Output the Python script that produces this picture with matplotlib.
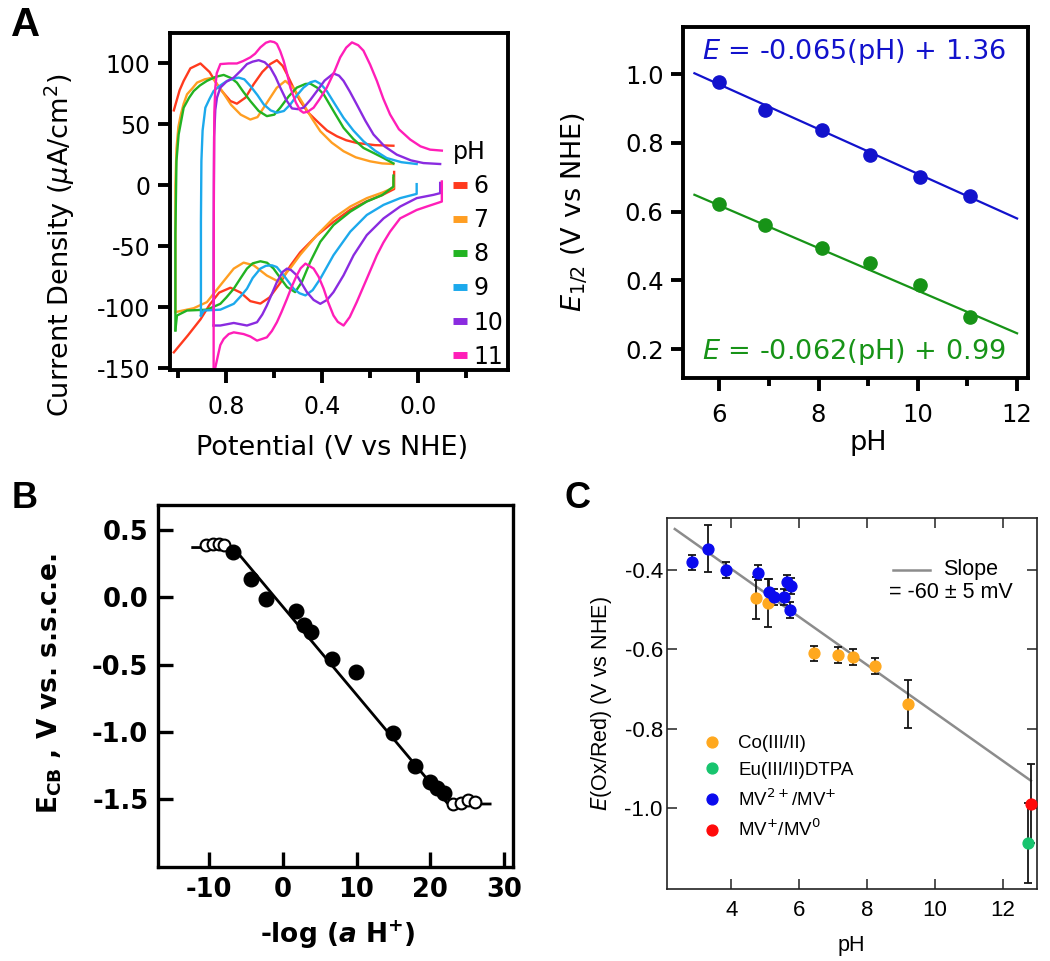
import matplotlib
matplotlib.use('Agg')
import matplotlib.pyplot as plt
from matplotlib.lines import Line2D
import numpy as np

plt.rcParams['font.family'] = ['DejaVu Sans']
plt.rcParams['axes.unicode_minus'] = False
plt.rcParams['mathtext.fontset'] = 'custom'
plt.rcParams['mathtext.rm'] = 'DejaVu Sans'
plt.rcParams['mathtext.it'] = 'DejaVu Sans:italic'
plt.rcParams['mathtext.bf'] = 'DejaVu Sans:bold'
try:
    plt.rcParams['mathtext.bfit'] = 'DejaVu Sans:bold:italic'
except KeyError:
    pass

# ---------------- Panel A (left): cyclic voltammograms ----------------
cv_pH_labels = ['6', '7', '8', '9', '10', '11']
cv_colors = ['#FF3A1E', '#FF9E22', '#22B322', '#1CA9EC', '#8A2BE0', '#FF1EB8']

ph6_fwd = [(1.019, 61.5), (0.995, 78), (0.978, 85.7), (0.95, 96), (0.908, 100.0), (0.87, 93),
           (0.83, 80), (0.783, 69.2), (0.756, 67.0), (0.72, 72), (0.686, 83), (0.65, 93),
           (0.617, 99.5), (0.589, 102.7), (0.565, 98), (0.547, 91.2), (0.52, 80), (0.492, 69.2),
           (0.46, 60), (0.422, 52.7), (0.38, 45), (0.339, 40.3), (0.30, 37), (0.256, 34.8),
           (0.18, 33), (0.103, 32.5)]
ph6_rev = [(0.100, 11), (0.100, -3), (0.15, -8), (0.214, -13), (0.283, -20), (0.353, -30),
           (0.422, -41), (0.492, -55), (0.533, -66), (0.575, -80), (0.62, -92), (0.658, -97),
           (0.70, -95), (0.74, -88), (0.783, -84), (0.83, -88), (0.87, -98), (0.908, -110),
           (0.96, -123), (1.019, -137)]

ph7_fwd = [(1.0125, -104), (1.0125, 0), (1.008, 30), (1.0, 48), (0.99, 58), (0.978, 67),
           (0.964, 74.7), (0.94, 80), (0.922, 84.3), (0.89, 87), (0.867, 88), (0.853, 87),
           (0.82, 78), (0.78, 66), (0.74, 58), (0.70, 54), (0.67, 56), (0.63, 68), (0.59, 80),
           (0.554, 85.7), (0.52, 80), (0.478, 66.4), (0.44, 54), (0.408, 44.4), (0.36, 35),
           (0.311, 28), (0.26, 23), (0.20, 19.7), (0.15, 18), (0.103, 17.5)]
ph7_rev = [(0.103, 6), (0.103, -2), (0.15, -6), (0.214, -10.5), (0.283, -17.4), (0.353, -27),
           (0.422, -40.8), (0.492, -57), (0.533, -68), (0.582, -79), (0.631, -74), (0.686, -65.6),
           (0.728, -63.4), (0.769, -68.3), (0.825, -82), (0.881, -95.8), (0.936, -100.8),
           (1.0125, -104)]

ph8_fwd = [(1.0125, -119), (1.0125, -40), (1.008, 20), (0.999, 41.7), (0.978, 63.7), (0.955, 72),
           (0.936, 77.4), (0.91, 82), (0.881, 85.7), (0.845, 89), (0.811, 90.6), (0.78, 88),
           (0.756, 84.3), (0.73, 77), (0.70, 69.2), (0.665, 61), (0.631, 56.8), (0.60, 58),
           (0.575, 63.7), (0.54, 73), (0.506, 80.2), (0.47, 83.2), (0.45, 83.5), (0.42, 80),
           (0.394, 74.7), (0.35, 60), (0.311, 47.2), (0.27, 38), (0.228, 30.7), (0.18, 26),
           (0.144, 22.4), (0.103, 18)]
ph8_rev = [(0.103, 8), (0.103, -1), (0.15, -8), (0.214, -13.3), (0.283, -21.6), (0.353, -32.6),
           (0.408, -46.3), (0.45, -62.8), (0.485, -79.3), (0.513, -87.6), (0.547, -83.4),
           (0.575, -76), (0.603, -68.3), (0.63, -63.5), (0.658, -62.3), (0.69, -64), (0.714, -68.3),
           (0.74, -76), (0.769, -84.8), (0.80, -92), (0.825, -97.2), (0.881, -102), (0.964, -102.7),
           (1.006, -106.8), (1.0125, -119)]

ph9_fwd = [(0.906, -106.8), (0.906, -30), (0.904, 20), (0.899, 45), (0.8875, 63.7), (0.87, 71),
           (0.853, 77.4), (0.825, 82), (0.797, 85.7), (0.77, 87.5), (0.749, 88.4), (0.725, 87),
           (0.70, 81.6), (0.67, 74), (0.644, 66.4), (0.615, 61.5), (0.589, 59.6), (0.56, 61),
           (0.533, 66.4), (0.505, 74), (0.478, 80.2), (0.45, 84.5), (0.429, 85.7), (0.405, 83),
           (0.381, 77.4), (0.345, 66), (0.311, 55.4), (0.27, 45), (0.228, 36.2), (0.18, 28.5),
           (0.131, 22.4), (0.07, 19), (0.006, 17.5)]
ph9_rev = [(0.006, 1), (0.006, -7), (0.075, -10.5), (0.144, -16), (0.214, -24.3), (0.283, -38),
           (0.353, -57.3), (0.408, -76.6), (0.44, -86), (0.47, -90.3), (0.495, -88.5),
           (0.519, -84.8), (0.561, -73.8), (0.59, -67), (0.61, -65.6), (0.635, -66), (0.658, -68.3),
           (0.69, -76), (0.714, -84.8), (0.74, -91), (0.769, -97.2), (0.825, -102), (0.894, -102.7),
           (0.906, -106.8)]

ph10_fwd = [(0.853, -115), (0.853, -50), (0.851, 40), (0.846, 62), (0.839, 72), (0.825, 80.2),
            (0.80, 85), (0.769, 88.4), (0.74, 94), (0.714, 99.5), (0.69, 101.5), (0.665, 102.7),
            (0.64, 101), (0.617, 96.7), (0.595, 89), (0.575, 80.2), (0.55, 70), (0.526, 63.1),
            (0.50, 62.5), (0.478, 63.7), (0.45, 70), (0.422, 77.4), (0.39, 86), (0.353, 91.8),
            (0.33, 90), (0.311, 85.7), (0.285, 77), (0.256, 66.4), (0.22, 53), (0.186, 41.7),
            (0.14, 32), (0.089, 25.2), (0.03, 20.5), (-0.022, 18.3), (-0.092, 17.5)]
ph10_rev = [(-0.092, 2), (-0.092, -6.4), (-0.064, -7.8), (0.006, -10.5), (0.075, -17.4),
            (0.144, -27.1), (0.214, -40.8), (0.269, -57.3), (0.311, -73.8), (0.353, -87.6),
            (0.38, -94), (0.408, -97.2), (0.436, -94), (0.464, -87.6), (0.506, -73.8), (0.53, -69.5),
            (0.547, -68.3), (0.565, -71), (0.589, -79.3), (0.61, -89), (0.631, -98.6), (0.65, -106),
            (0.672, -112.3), (0.714, -115), (0.769, -112.9), (0.825, -115), (0.853, -115)]

ph11_fwd = [(0.853, -149.5), (0.853, -100), (0.852, 0), (0.850, 60), (0.846, 80.2), (0.84, 92),
            (0.825, 99.5), (0.79, 100), (0.756, 100), (0.73, 102), (0.70, 105), (0.68, 108),
            (0.658, 113.2), (0.635, 117), (0.617, 118.2), (0.60, 117.5), (0.589, 116), (0.575, 110),
            (0.561, 102.2), (0.547, 92), (0.533, 80.2), (0.51, 68), (0.492, 61.5), (0.478, 59.6),
            (0.46, 60.5), (0.436, 63.7), (0.41, 71), (0.381, 80.2), (0.35, 93), (0.325, 105),
            (0.30, 113), (0.276, 117.3), (0.25, 115), (0.228, 110.5), (0.20, 99), (0.172, 85.7),
            (0.145, 71), (0.117, 58.2), (0.08, 46), (0.033, 37.6), (-0.01, 32), (-0.05, 29.3),
            (-0.099, 28.5)]
ph11_rev = [(-0.099, 3.2), (-0.099, -13.3), (-0.036, -17.4), (0.006, -20.2), (0.075, -27.1),
            (0.117, -38), (0.145, -47), (0.172, -57.3), (0.214, -76.6), (0.256, -95.8),
            (0.285, -108), (0.311, -115), (0.335, -112), (0.353, -106.8), (0.375, -96),
            (0.394, -84.8), (0.415, -75), (0.436, -68.3), (0.47, -64.2), (0.49, -68), (0.506, -73.8),
            (0.527, -83), (0.547, -93.1), (0.57, -104), (0.589, -112.3), (0.61, -119.5),
            (0.631, -124.7), (0.672, -127.4), (0.70, -124), (0.728, -122), (0.769, -120.6),
            (0.79, -122), (0.811, -126), (0.825, -131), (0.832, -137), (0.846, -149.5)]

cv_fwd = [ph6_fwd, ph7_fwd, ph8_fwd, ph9_fwd, ph10_fwd, ph11_fwd]
cv_rev = [ph6_rev, ph7_rev, ph8_rev, ph9_rev, ph10_rev, ph11_rev]

# ---------------- Panel A (right): E1/2 vs pH ----------------
e12_pH = [6.0, 6.93, 8.08, 9.03, 10.05, 11.06]
e12_high = [0.978, 0.895, 0.837, 0.766, 0.701, 0.645]
e12_low = [0.622, 0.560, 0.493, 0.451, 0.386, 0.294]
fit_high_slope, fit_high_int = -0.065, 1.36
fit_low_slope, fit_low_int = -0.062, 0.99
fit_pH_range = [5.5, 12.0]

# ---------------- Panel B ----------------
B_open_x = [-10.4, -9.4, -8.7, -8.0, 23.1, 24.1, 25.1, 26.0]
B_open_y = [0.39, 0.40, 0.40, 0.39, -1.535, -1.525, -1.505, -1.518]
B_fill_x = [-6.8, -4.3, -2.3, 1.8, 2.9, 3.8, 6.7, 9.9, 14.9, 17.9, 20.0, 20.9, 21.9]
B_fill_y = [0.34, 0.135, -0.01, -0.10, -0.205, -0.26, -0.46, -0.557, -1.01, -1.25, -1.37,
            -1.415, -1.455]
B_line_x = [-12.2, -6.7, 22.4, 28.1]
B_line_y = [0.37, 0.37, -1.535, -1.535]

# ---------------- Panel C ----------------
C_co_pH = [4.73, 5.08, 6.42, 7.15, 7.59, 8.22, 9.20]
C_co_E = [-0.471, -0.484, -0.610, -0.614, -0.620, -0.643, -0.738]
C_co_err = [0.053, 0.060, 0.019, 0.020, 0.020, 0.020, 0.061]
C_eu_pH = [12.73]
C_eu_E = [-1.088]
C_eu_err = [0.10]
C_mv1_pH = [2.85, 3.30, 3.85, 4.79, 5.11, 5.24, 5.54, 5.64, 5.74, 5.71]
C_mv1_E = [-0.382, -0.347, -0.402, -0.408, -0.457, -0.469, -0.469, -0.432, -0.442, -0.502]
C_mv1_err = [0.019, 0.060, 0.020, 0.019, 0.034, 0.020, 0.020, 0.019, 0.020, 0.020]
C_mv2_pH = [12.82]
C_mv2_E = [-0.989]
C_mv2_err = [0.10]
C_slope, C_int = -0.0604, -0.157
C_fit_range = [2.33, 12.82]
C_labels = ['Co(III/II)', 'Eu(III/II)DTPA', 'MV$^{2+}$/MV$^{+}$', 'MV$^{+}$/MV$^{0}$']
C_colors = ['#FFA81E', '#17C46E', '#0A0AEE', '#FF0A0A']

# ================= figure =================
W, H = 1050, 961
fig = plt.figure(figsize=(W / 100, H / 100), dpi=100)


def axpos(l, t, r, b):
    return [l / W, 1 - b / H, (r - l) / W, (b - t) / H]


axA = fig.add_axes(axpos(170, 33, 508, 370))
axA2 = fig.add_axes(axpos(683, 27, 1028, 378))
axB = fig.add_axes(axpos(158, 505, 513, 867))
axC = fig.add_axes(axpos(667, 518, 1037, 889))

# ---- Panel A left ----
handles = []
for lab, col, fw, rv in zip(cv_pH_labels, cv_colors, cv_fwd, cv_rev):
    e, j = np.array(fw).T
    axA.plot(e, j, color=col, lw=1.7, solid_joinstyle='round')
    e, j = np.array(rv).T
    axA.plot(e, j, color=col, lw=1.7, solid_joinstyle='round')
    handles.append(Line2D([], [], color=col, lw=5, solid_capstyle='butt'))
axA.set_xlim(1.035, -0.375)
axA.set_ylim(-151.5, 125)
axA.set_xticks([0.8, 0.4, 0.0])
axA.set_xticks([1.0, 0.6, 0.2, -0.2], minor=True)
axA.set_yticks([100, 50, 0, -50, -100, -150])
axA.tick_params(which='both', direction='out', width=2.8, labelsize=17)
axA.tick_params(which='major', length=9)
axA.tick_params(which='minor', length=6)
axA.tick_params(axis='x', pad=9)
axA.tick_params(axis='y', pad=5)
for s in axA.spines.values():
    s.set_linewidth(2.8)
axA.set_ylabel('Current Density ($\\mu$A/cm$^2$)', fontsize=19.5, va='center')
axA.yaxis.set_label_coords(-0.325, 0.371)
axA.set_xlabel('Potential (V vs NHE)', fontsize=19.5, va='center')
axA.xaxis.set_label_coords(0.479, -0.231)
leg = axA.legend(handles, cv_pH_labels, title='pH', loc='upper right',
                 bbox_to_anchor=(0.985, 0.683), frameon=False, fontsize=17,
                 title_fontsize=17, handlelength=0.6, handletextpad=0.25,
                 labelspacing=0.43, borderpad=0, borderaxespad=0, alignment='left')

# ---- Panel A right ----
blue_c, green_c = '#1212CC', '#179317'
fx = np.array(fit_pH_range)
axA2.plot(fx, fit_high_slope * fx + fit_high_int, color=blue_c, lw=1.6)
axA2.plot(fx, fit_low_slope * fx + fit_low_int, color=green_c, lw=1.6)
axA2.plot(e12_pH, e12_high, 'o', color=blue_c, ms=9.5)
axA2.plot(e12_pH, e12_low, 'o', color=green_c, ms=9.5)
axA2.set_xlim(5.27, 12.22)
axA2.set_ylim(0.116, 1.137)
axA2.set_xticks([6, 8, 10, 12])
axA2.set_xticks([7, 9, 11], minor=True)
axA2.set_yticks([0.2, 0.4, 0.6, 0.8, 1.0])
axA2.tick_params(which='both', direction='out', width=2.8, labelsize=17.5)
axA2.tick_params(which='major', length=9)
axA2.tick_params(which='minor', length=6)
axA2.tick_params(axis='x', pad=9)
axA2.tick_params(axis='y', pad=5)
for s in axA2.spines.values():
    s.set_linewidth(2.8)
axA2.set_ylabel('$E_{1/2}$ (V vs NHE)', fontsize=19.5, va='center')
axA2.yaxis.set_label_coords(-0.313, 0.473)
axA2.set_xlabel('pH', fontsize=19.5, va='center')
axA2.xaxis.set_label_coords(0.536, -0.185)
axA2.text(0.496, 0.929, '$E$ = -0.065(pH) + 1.36', transform=axA2.transAxes,
          ha='center', va='center', fontsize=19.5, color=blue_c)
axA2.text(0.494, 0.074, '$E$ = -0.062(pH) + 0.99', transform=axA2.transAxes,
          ha='center', va='center', fontsize=19.5, color=green_c)

# ---- Panel B ----
axB.plot(B_line_x, B_line_y, color='black', lw=2.0, zorder=1)
axB.plot(B_fill_x, B_fill_y, 'o', color='black', ms=10.5, zorder=3)
axB.plot(B_open_x, B_open_y, 'o', mfc='white', mec='black', mew=1.5, ms=8.5, zorder=2)
axB.set_xlim(-16.9, 31.2)
axB.set_ylim(-2.003, 0.686)
axB.set_xticks([-10, 0, 10, 20, 30])
axB.set_yticks([0.5, 0.0, -0.5, -1.0, -1.5])
axB.tick_params(direction='in', length=11, width=2.4, labelsize=18.5, pad=7)
for s in axB.spines.values():
    s.set_linewidth(2.4)
for t in axB.get_xticklabels() + axB.get_yticklabels():
    t.set_fontweight('bold')
axB.set_ylabel('E$_{\\mathbf{CB}}$ , V vs. s.s.c.e.', fontsize=19, fontweight='bold', va='center')
axB.yaxis.set_label_coords(-0.304, 0.506)
axB.set_xlabel('-log ($\\mathbfit{a}$ H$^{\\mathbf{+}}$)', fontsize=19, fontweight='bold', va='center')
axB.xaxis.set_label_coords(0.506, -0.188)

# ---- Panel C ----
cx = np.array(C_fit_range)
axC.plot(cx, C_slope * cx + C_int, color='#8C8C8C', lw=1.8, zorder=1)
groups = [(C_co_pH, C_co_E, C_co_err), (C_eu_pH, C_eu_E, C_eu_err),
          (C_mv1_pH, C_mv1_E, C_mv1_err), (C_mv2_pH, C_mv2_E, C_mv2_err)]
for (gx, gy, ge), col, lab in zip(groups, C_colors, C_labels):
    axC.errorbar(gx, gy, yerr=ge, fmt='none', ecolor='#151515', elinewidth=1.3,
                 capsize=2.6, capthick=1.3, zorder=2)
    axC.plot(gx, gy, 'o', color=col, ms=7.8, label=lab, zorder=3)
axC.set_xlim(2.1, 13.0)
axC.set_ylim(-1.204, -0.270)
axC.set_xticks([4, 6, 8, 10, 12])
axC.set_yticks([-0.4, -0.6, -0.8, -1.0])
axC.tick_params(direction='in', length=7, width=1.1, labelsize=16, top=True, right=True,
                labelfontfamily='Liberation Sans', color='#222222')
axC.tick_params(axis='x', pad=8)
axC.tick_params(axis='y', pad=3)
for s in axC.spines.values():
    s.set_linewidth(1.2)
    s.set_color('#222222')
axC.set_ylabel('$E$(Ox/Red) (V vs NHE)', fontsize=15.5, family='Liberation Sans', va='center')
axC.yaxis.set_label_coords(-0.176, 0.501)
axC.set_xlabel('pH', fontsize=15.5, family='Liberation Sans', va='center')
axC.xaxis.set_label_coords(0.497, -0.151)
axC.legend(loc='upper left', bbox_to_anchor=(0.101, 0.415), frameon=False,
           prop={'family': 'Liberation Sans', 'size': 13.5}, handlelength=0.8,
           handletextpad=1.0, labelspacing=0.5, borderpad=0, borderaxespad=0)
axC.plot([0.61, 0.71], [0.86, 0.86], transform=axC.transAxes, color='#8C8C8C', lw=1.8)
axC.text(0.745, 0.86, 'Slope', transform=axC.transAxes, ha='left', va='center',
         fontsize=15.5, family='Liberation Sans')
axC.text(0.60, 0.80, '= -60 ± 5 mV', transform=axC.transAxes, ha='left', va='center',
         fontsize=15.5, family='Liberation Sans')

# ---- panel letters ----
fig.text(11 / W, 1 - 6 / H, 'A', fontsize=29, fontweight='bold', family='Liberation Sans',
         ha='left', va='top')
fig.text(12 / W, 1 - 481 / H, 'B', fontsize=26, fontweight='bold', family='Liberation Sans',
         ha='left', va='top')
fig.text(564 / W, 1 - 481 / H, 'C', fontsize=26, fontweight='bold', family='Liberation Sans',
         ha='left', va='top')

fig.savefig('out.png', dpi=100)
